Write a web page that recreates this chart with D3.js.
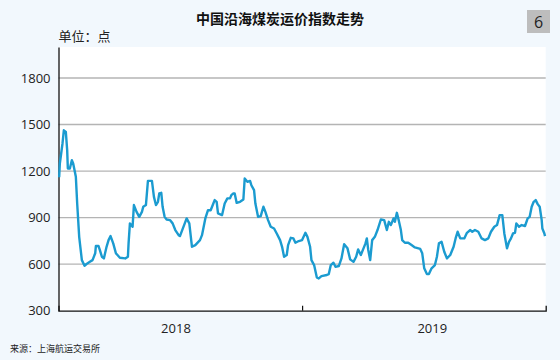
<!DOCTYPE html>
<html><head><meta charset="utf-8">
<script src="https://cdn.jsdelivr.net/npm/d3@7"></script>
<style>
html,body{margin:0;padding:0;background:#f2f8fd;}
svg{display:block;font-family:"Noto Sans CJK SC","Noto Sans",sans-serif;}
</style></head>
<body><svg id="c" width="560" height="360"></svg>
<script>
const title = "中国沿海煤炭运价指数走势";
const unitLabel = "单位：点";
const sourceLabel = "来源：上海航运交易所";
const pageNo = "6";
const yTicks = [300, 600, 900, 1200, 1500, 1800];
const yearLabels = ["2018", "2019"];
const yearLabelDates = ["2018-06-26", "2019-07-15"];
const yearBoundaries = ["2019-01-01"];

const dates = [
"2018-01-02","2018-01-03","2018-01-07","2018-01-09","2018-01-12","2018-01-14","2018-01-15","2018-01-18","2018-01-21","2018-01-23",
"2018-01-27","2018-01-29","2018-02-01","2018-02-05","2018-02-09","2018-02-12","2018-02-17","2018-02-21","2018-02-25","2018-02-26",
"2018-03-02","2018-03-04","2018-03-07","2018-03-10","2018-03-14","2018-03-17","2018-03-20","2018-03-24","2018-03-28","2018-04-03",
"2018-04-11","2018-04-15","2018-04-16","2018-04-18","2018-04-20","2018-04-22","2018-04-24","2018-04-28","2018-05-02","2018-05-06",
"2018-05-08","2018-05-12","2018-05-15","2018-05-21","2018-05-24","2018-05-27","2018-05-30","2018-06-01","2018-06-04","2018-06-06",
"2018-06-09","2018-06-12","2018-06-17","2018-06-21","2018-06-25","2018-06-30","2018-07-02","2018-07-12","2018-07-16","2018-07-20",
"2018-07-25","2018-08-01","2018-08-04","2018-08-09","2018-08-13","2018-08-17","2018-08-21","2018-08-23","2018-08-26","2018-08-28",
"2018-09-03","2018-09-07","2018-09-11","2018-09-15","2018-09-17","2018-09-20","2018-09-22","2018-09-25","2018-09-30","2018-10-05",
"2018-10-07","2018-10-11","2018-10-15","2018-10-17","2018-10-21","2018-10-23","2018-10-27","2018-10-31","2018-11-04","2018-11-07",
"2018-11-11","2018-11-15","2018-11-20","2018-11-24","2018-11-29","2018-12-02","2018-12-05","2018-12-09","2018-12-11","2018-12-15",
"2018-12-19","2018-12-22","2018-12-27","2019-01-01","2019-01-06","2019-01-09","2019-01-13","2019-01-15","2019-01-19","2019-01-23",
"2019-01-26","2019-01-30","2019-02-07","2019-02-10","2019-02-13","2019-02-17","2019-02-20","2019-02-25","2019-03-01","2019-03-05",
"2019-03-10","2019-03-14","2019-03-19","2019-03-23","2019-03-26","2019-03-30","2019-04-03","2019-04-06","2019-04-08","2019-04-10",
"2019-04-13","2019-04-16","2019-04-20","2019-04-24","2019-04-29","2019-05-04","2019-05-08","2019-05-11","2019-05-14","2019-05-18",
"2019-05-20","2019-05-23","2019-05-26","2019-05-29","2019-05-31","2019-06-04","2019-06-09","2019-06-14","2019-06-19","2019-06-27",
"2019-06-30","2019-07-03","2019-07-07","2019-07-10","2019-07-14","2019-07-19","2019-07-22","2019-07-25","2019-07-29","2019-08-02",
"2019-08-06","2019-08-11","2019-08-16","2019-08-19","2019-08-22","2019-08-26","2019-09-01","2019-09-05","2019-09-10","2019-09-13",
"2019-09-17","2019-09-22","2019-09-27","2019-10-02","2019-10-07","2019-10-11","2019-10-16","2019-10-20","2019-10-24","2019-10-28",
"2019-10-31","2019-11-04","2019-11-07","2019-11-10","2019-11-13","2019-11-16","2019-11-18","2019-11-22","2019-11-26","2019-12-01",
"2019-12-05","2019-12-08","2019-12-11","2019-12-14","2019-12-17","2019-12-20","2019-12-23","2019-12-26","2019-12-27","2019-12-30",
"2019-12-31"];

const values = [
1160,1249,1378,1463,1452,1335,1217,1217,1270,1249,
1163,991,776,626,590,601,615,626,670,717,
717,691,648,637,712,755,781,734,670,641,
637,648,734,863,852,841,981,937,905,937,
970,981,1137,1137,1034,981,1002,1056,1060,970,
905,888,884,863,820,787,781,895,863,712,
723,755,787,895,948,948,991,1013,1002,927,
916,991,1024,1024,1045,1056,1056,995,1002,1017,
1152,1131,1137,1109,1077,991,905,910,970,937,
884,841,830,798,755,712,648,659,723,770,
766,738,749,755,802,776,712,626,594,515,
508,523,530,536,594,609,583,588,637,729,
702,631,615,648,695,659,702,734,766,695,
626,755,776,820,888,884,820,873,852,895,
873,931,879,820,755,738,738,723,708,698,
670,573,536,536,573,594,648,734,744,680,
637,659,712,766,809,766,766,802,820,809,
820,809,766,755,766,809,841,852,916,916,
798,702,744,766,798,802,863,841,852,846,
895,905,970,1002,1013,987,970,884,830,798,
781];

const parse = d3.timeParse("%Y-%m-%d");
const data = dates.map((d, i) => ({date: parse(d), value: values[i]}));

const svg = d3.select("#c");
const m = {left: 58.5, right: 545.7, top: 47, bottom: 310.7};

const x = d3.scaleTime()
  .domain([parse("2018-01-01"), parse("2020-01-01")])
  .range([m.left, m.right]);
const y = d3.scaleLinear().domain([300, 2000]).range([m.bottom, m.top]);

// plot background
svg.append("rect")
  .attr("x", m.left).attr("y", m.top)
  .attr("width", m.right - m.left).attr("height", m.bottom - m.top)
  .attr("fill", "#ffffff");

// grid lines
svg.append("g").selectAll("line")
  .data(yTicks.filter(t => t > 300))
  .join("line")
  .attr("x1", m.left).attr("x2", m.right)
  .attr("y1", d => y(d)).attr("y2", d => y(d))
  .attr("stroke", "#b4b4b4").attr("stroke-width", 1.4);

// y axis
const yAxis = svg.append("g")
  .attr("transform", `translate(${m.left},0)`)
  .call(d3.axisLeft(y).tickValues(yTicks).tickSize(0).tickPadding(8).tickFormat(d3.format("d")));
yAxis.select(".domain").attr("stroke", "#111").attr("stroke-width", 1.3);
yAxis.selectAll("text").attr("font-size", 13).attr("fill", "#222")
  .attr("font-family", "'Open Sans','Noto Sans',sans-serif");

// x axis
const xAxis = svg.append("g")
  .attr("transform", `translate(0,${m.bottom})`)
  .call(d3.axisBottom(x).tickValues(yearBoundaries.map(parse)).tickSize(-5).tickFormat(""));
xAxis.select(".domain").attr("stroke", "#111").attr("stroke-width", 1.3);
xAxis.selectAll(".tick line").attr("stroke", "#111").attr("stroke-width", 1.2);

svg.append("g").selectAll("text")
  .data(yearLabels)
  .join("text")
  .attr("x", (d, i) => x(parse(yearLabelDates[i])))
  .attr("y", m.bottom + 22)
  .attr("text-anchor", "middle")
  .attr("font-size", 13).attr("fill", "#222")
  .attr("font-family", "'Open Sans','Noto Sans',sans-serif")
  .text(d => d);

// line
const line = d3.line().x(d => x(d.date)).y(d => y(d.value)).curve(d3.curveLinear);
svg.append("path")
  .datum(data)
  .attr("d", line)
  .attr("fill", "none")
  .attr("stroke", "#1b9bd0")
  .attr("stroke-width", 2.4)
  .attr("stroke-linejoin", "round");

// title
svg.append("text")
  .attr("x", 280).attr("y", 24)
  .attr("text-anchor", "middle")
  .attr("font-size", 14).attr("font-weight", "bold").attr("fill", "#111")
  .text(title);

svg.append("text")
  .attr("x", m.left).attr("y", 41)
  .attr("font-size", 13).attr("fill", "#222")
  .text(unitLabel);

// page number box
svg.append("rect")
  .attr("x", 527).attr("y", 10).attr("width", 23).attr("height", 23)
  .attr("fill", "#bdbdbd");
svg.append("text")
  .attr("x", 538.5).attr("y", 27.5)
  .attr("text-anchor", "middle")
  .attr("font-size", 16).attr("fill", "#222")
  .attr("font-family", "'Open Sans','Noto Sans',sans-serif")
  .text(pageNo);

// source
svg.append("text")
  .attr("x", 10).attr("y", 352)
  .attr("font-size", 9).attr("fill", "#222")
  .text(sourceLabel);
</script></body></html>
